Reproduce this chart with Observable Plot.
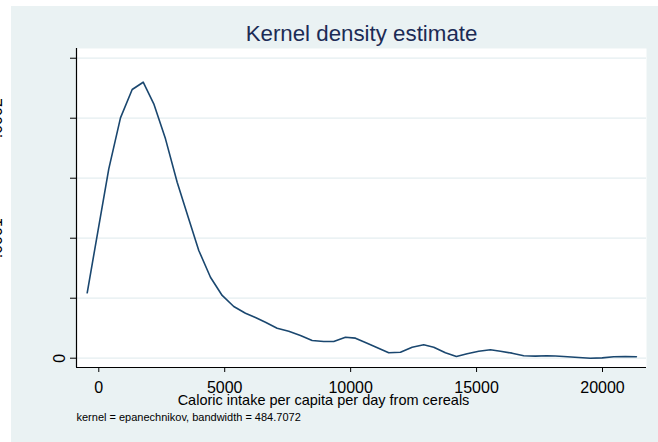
<!DOCTYPE html>
<html><head><meta charset="utf-8">
<script src="https://cdn.jsdelivr.net/npm/d3@7"></script>
<script src="https://cdn.jsdelivr.net/npm/@observablehq/plot@0.6"></script>
<style>
html,body{margin:0;padding:0;background:#fff;}
#chart{position:absolute;left:11px;top:6px;}
#chart svg{overflow:visible;}
</style></head><body><div id="chart"></div>
<script>
// Data
const calories = [-460, -32, 397, 861, 1326, 1763, 2183, 2648, 3112, 3541, 3970, 4434, 4899, 5359, 5824, 6220, 6617, 7081, 7542, 8007, 8471, 8932, 9329, 9794, 10191, 10655, 11084, 11512, 11977, 12442, 12902, 13299, 13763, 14200, 14625, 15085, 15550, 15947, 16411, 16872, 17336, 17801, 18130, 18460, 19055, 19520, 19984, 20445, 20909, 21346];
const densityE4 = [0.545, 1.062, 1.578, 2.003, 2.239, 2.300, 2.120, 1.828, 1.467, 1.181, 0.898, 0.675, 0.523, 0.431, 0.375, 0.339, 0.300, 0.250, 0.225, 0.189, 0.148, 0.139, 0.139, 0.175, 0.167, 0.125, 0.085, 0.045, 0.050, 0.092, 0.112, 0.092, 0.045, 0.014, 0.037, 0.058, 0.070, 0.058, 0.042, 0.020, 0.017, 0.020, 0.018, 0.014, 0.006, 0.000, 0.003, 0.012, 0.014, 0.012];
const xTicks = [0, 5000, 10000, 15000, 20000];
const yTicks = [0, 0.00005, 0.0001, 0.00015, 0.0002, 0.00025];
const yZeroTick = [0];
const yLabelTicks = [0.0001, 0.0002];
const xDomain = [-885, 21747];
const yDomain = [-0.00000775, 0.0002581];
const titleText = "Kernel density estimate";
const xTitle = "Caloric intake per capita per day from cereals";
const noteText = "kernel = epanechnikov, bandwidth = 484.7072";

const data = calories.map((c, i) => ({calories: c, density: densityE4[i] * 1e-4}));
const yFmt = d => d === 0 ? "0" : d3.format(".4f")(d).replace(/^0/, "");
const font = "'Liberation Sans', Arial, sans-serif";

const chart = Plot.plot({
  width: 647, height: 436,
  marginLeft: 65, marginRight: 12, marginTop: 42, marginBottom: 75,
  style: {background: "#eaf2f3", fontFamily: font, color: "#000", overflow: "visible"},
  x: {domain: xDomain},
  y: {domain: yDomain},
  marks: [
    Plot.frame({fill: "white", stroke: null}),
    Plot.gridY(yTicks, {stroke: "#e4eef0", strokeOpacity: 1, strokeWidth: 1.2}),
    Plot.line(data, {x: "calories", y: "density", stroke: "#1a476f", strokeWidth: 1.6}),
    Plot.ruleX([xDomain[0]], {stroke: "#000", strokeWidth: 1.2}),
    Plot.ruleY([yDomain[0]], {stroke: "#000", strokeWidth: 1.2}),
    Plot.axisY(yTicks, {tickSize: 6, tickFormat: () => "", label: null, stroke: "#000"}),
    Plot.axisY(yZeroTick, {tickSize: 0, tickPadding: 12, tickRotate: -90, tickFormat: yFmt, fontSize: 16, label: null, fill: "#000"}),
    Plot.axisY(yLabelTicks, {tickSize: 0, tickPadding: 75, tickRotate: -90, tickFormat: yFmt, fontSize: 16, label: null, fill: "#000"}),
    Plot.axisX(xTicks, {tickSize: 5, tickPadding: 9, tickFormat: d3.format("d"), fontSize: 16, label: null, stroke: "#000", fill: "#000"}),
    Plot.text([titleText], {frameAnchor: "top", lineAnchor: "bottom", dy: -8, fontSize: 22.3, fill: "#1c2b55"}),
    Plot.text([xTitle], {frameAnchor: "bottom", lineAnchor: "bottom", dy: 37, dx: -38, fontSize: 14.5, fill: "#000"}),
    Plot.text([noteText], {frameAnchor: "bottom-left", textAnchor: "start", lineAnchor: "bottom", dy: 53, fontSize: 11, fill: "#000"})
  ]
});
document.getElementById("chart").append(chart);
</script></body></html>
